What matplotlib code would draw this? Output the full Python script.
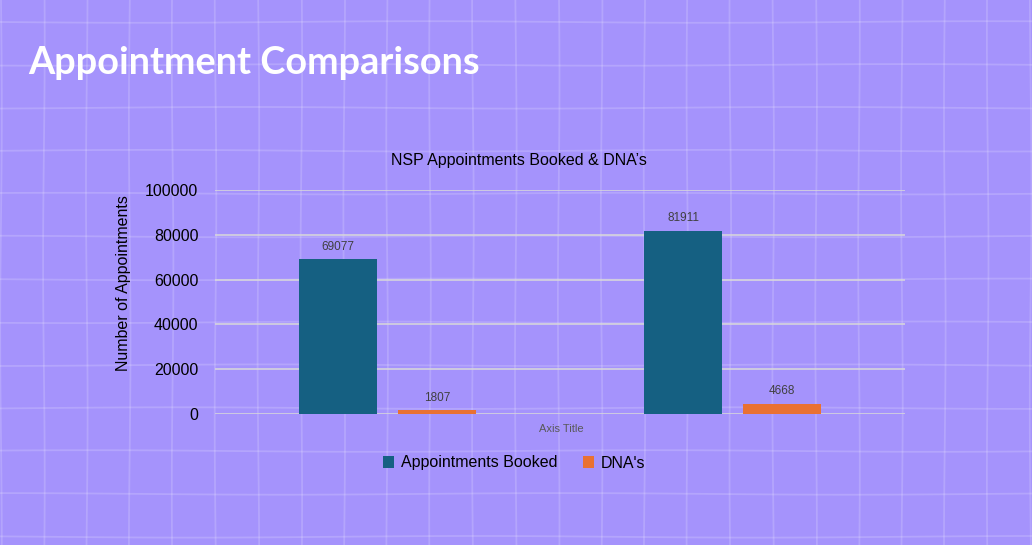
import numpy as np
import matplotlib.pyplot as plt

# ============================================================
# DATA
# ============================================================

categories = ["Period 1", "Period 2"]
booked = [69077, 81911]
dna = [1807, 4668]
series_names = ["Appointments Booked", "DNA's"]
y_ticks = [0, 20000, 40000, 60000, 80000, 100000]

BG = '#A593FC'
BLUE = '#156082'
ORANGE = '#E97132'

# ============================================================
# FIGURE + BACKGROUND TEXTURE
# ============================================================

fig = plt.figure(figsize=(10.32, 5.45), dpi=100)
fig.patch.set_facecolor(BG)

bg = fig.add_axes([0, 0, 1, 1], zorder=-5)
bg.set_xlim(0, 1032)
bg.set_ylim(545, 0)
bg.axis('off')

t = np.linspace(0, 545, 60)
for i, xv in enumerate(np.arange(1, 1032, 42.9)):
    bg.plot(xv + 0.8 * np.sin(t / 70 + i), t, color='white', alpha=0.17, lw=1.3)
s = np.linspace(0, 1032, 100)
for j, yv in enumerate(np.arange(22, 545, 42.9)):
    bg.plot(s, yv + 0.8 * np.sin(s / 90 + j), color='white', alpha=0.17, lw=1.3)

# ============================================================
# TITLE
# ============================================================

fig.text(28 / 1032, 1 - 63 / 545, "Appointment Comparisons", color='white',
         fontsize=27.3, fontweight='bold', family='Lato', va='center', ha='left')

# ============================================================
# BAR CHART
# ============================================================

ax = fig.add_axes([215 / 1032, 1 - 414 / 545, 690 / 1032, 224 / 545])
ax.set_facecolor('none')

x = np.arange(len(categories))
w = 0.225
off = 0.143

b1 = ax.bar(x - off, booked, width=w, color=BLUE, label=series_names[0], zorder=3)
b2 = ax.bar(x + off, dna, width=w, color=ORANGE, label=series_names[1], zorder=3)

for bars in (b1, b2):
    for r in bars:
        ax.annotate(f"{int(r.get_height())}",
                    (r.get_x() + r.get_width() / 2, r.get_height()),
                    xytext=(0, 4.5), textcoords='offset points',
                    ha='center', va='bottom', fontsize=8.5, color='#404040',
                    family='Liberation Sans')

ax.set_xlim(-0.5, 1.5)
ax.set_ylim(0, 100000)
ax.set_yticks(y_ticks)
ax.set_yticklabels([str(v) for v in y_ticks], family='Liberation Sans', fontsize=11.5)
ax.set_xticks([])
ax.grid(axis='y', color='#D9D9D9', lw=1.1, zorder=0)
ax.tick_params(axis='y', length=0, pad=12)
for sp in ax.spines.values():
    sp.set_visible(False)

ax.set_ylabel("Number of Appointments", family='Liberation Sans', fontsize=11.5)
ax.yaxis.set_label_coords(-(215 - 131) / 690, (414 - 283) / 224)
ax.set_xlabel("Axis Title", family='Liberation Sans', fontsize=8, color='#595959')
ax.xaxis.set_label_coords((561 - 215) / 690, -(424 - 414) / 224)

fig.text(519 / 1032, 1 - 160 / 545, "NSP Appointments Booked & DNA\u2019s",
         ha='center', va='center', fontsize=11.5, family='Liberation Sans')

leg = ax.legend(loc='center', bbox_to_anchor=((514 - 215) / 690, -(463 - 414) / 224),
                ncol=2, frameon=False,
                prop={'family': 'Liberation Sans', 'size': 11.5},
                handlelength=0.7, handleheight=0.7, columnspacing=1.6, handletextpad=0.4)

# ============================================================
# SAVE
# ============================================================

plt.savefig("out.png", dpi=100, facecolor=BG)
